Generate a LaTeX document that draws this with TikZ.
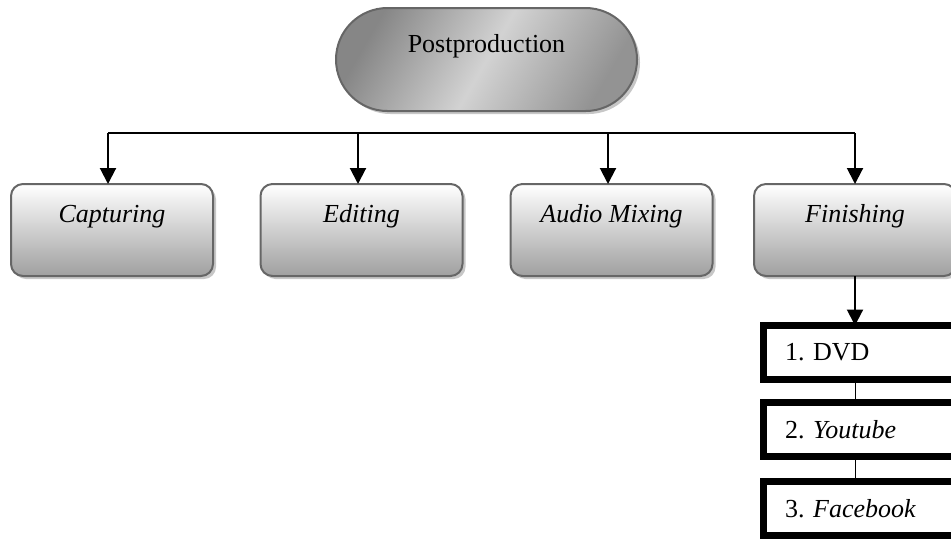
\documentclass[tikz,border=0pt]{standalone}
\usepackage{fontspec}
\setmainfont{Liberation Serif}
\usepackage{xcolor}
\colorlet{BoxBorder}{black!60}
\colorlet{BoxTop}{white}
\colorlet{BoxBottom}{gray!75}
\colorlet{BoxShadow}{black!22}
\usetikzlibrary{arrows.meta, shadows}
\frenchspacing

\tikzset{
  rootbox/.style={draw=BoxBorder, line width=1pt, rounded corners=25.75pt,
    left color=gray!95, right color=gray!85, middle color=gray!35, shading angle=60,
    drop shadow={shadow xshift=1.5pt, shadow yshift=-1.5pt, fill=BoxShadow, opacity=1},
    minimum width=150.5pt, inner xsep=0pt, inner ysep=0pt, outer sep=0pt,
    text height=22pt, text depth=29.5pt, font=\fontsize{13}{15}\selectfont},
  stagebox/.style={draw=BoxBorder, line width=1pt, rounded corners=6pt,
    top color=BoxTop, bottom color=BoxBottom,
    drop shadow={shadow xshift=1.5pt, shadow yshift=-1.5pt, fill=BoxShadow, opacity=1},
    minimum width=101pt, inner xsep=0pt, inner ysep=0pt, outer sep=0pt,
    text height=19pt, text depth=27pt, font=\fontsize{13}{15}\selectfont\itshape},
  outbox/.style={draw, line width=3.5pt, fill=white, anchor=north west,
    minimum height=27pt, inner xsep=10.75pt, inner ysep=0pt, outer sep=0pt,
    text width=100pt, align=left, font=\fontsize{13}{15}\selectfont},
  busline/.style={line width=1pt},
  arrowline/.style={line width=1pt, -{Triangle[length=8pt, width=8pt]}},
  thinline/.style={line width=0.5pt}
}

\begin{document}
\begin{tikzpicture}[x=0.5pt, y=-0.5pt]

\clip (0,0) rectangle (951,538);

\node[rootbox, anchor=north] (post) at (486.5,8) {Postproduction};

\node[stagebox, anchor=north] (cap) at (112,184) {Capturing};
\node[stagebox, anchor=north] (edit) at (361.5,184) {Editing};
\node[stagebox, anchor=north] (mix) at (611.5,184) {Audio Mixing};
\node[stagebox, anchor=north] (fin) at (855,184) {Finishing};

\node[outbox] (dvd) at (763.5,325.5) {1. DVD};
\node[outbox] (yt) at (763.5,402.5) {2. \textit{Youtube}};
\node[outbox] (fb) at (763.5,481.5) {3. \textit{Facebook}};

% Barra horizontal y flechas hacia cada etapa
\coordinate (tap1) at (108,133);
\coordinate (tap2) at (358,133);
\coordinate (tap3) at (608,133);
\coordinate (tap4) at (855,133);

\draw[busline] (tap1) -- (tap4);
\draw[arrowline] (tap1) -- (tap1 |- cap.north);
\draw[arrowline] (tap2) -- (tap2 |- edit.north);
\draw[arrowline] (tap3) -- (tap3 |- mix.north);
\draw[arrowline] (tap4) -- (tap4 |- fin.north);

\draw[arrowline] (fin.south) -- (fin.south |- dvd.north);
\draw[thinline] (fin.south |- dvd.south) -- (fin.south |- yt.north);
\draw[thinline] (fin.south |- yt.south) -- (fin.south |- fb.north);

\end{tikzpicture}
\end{document}
